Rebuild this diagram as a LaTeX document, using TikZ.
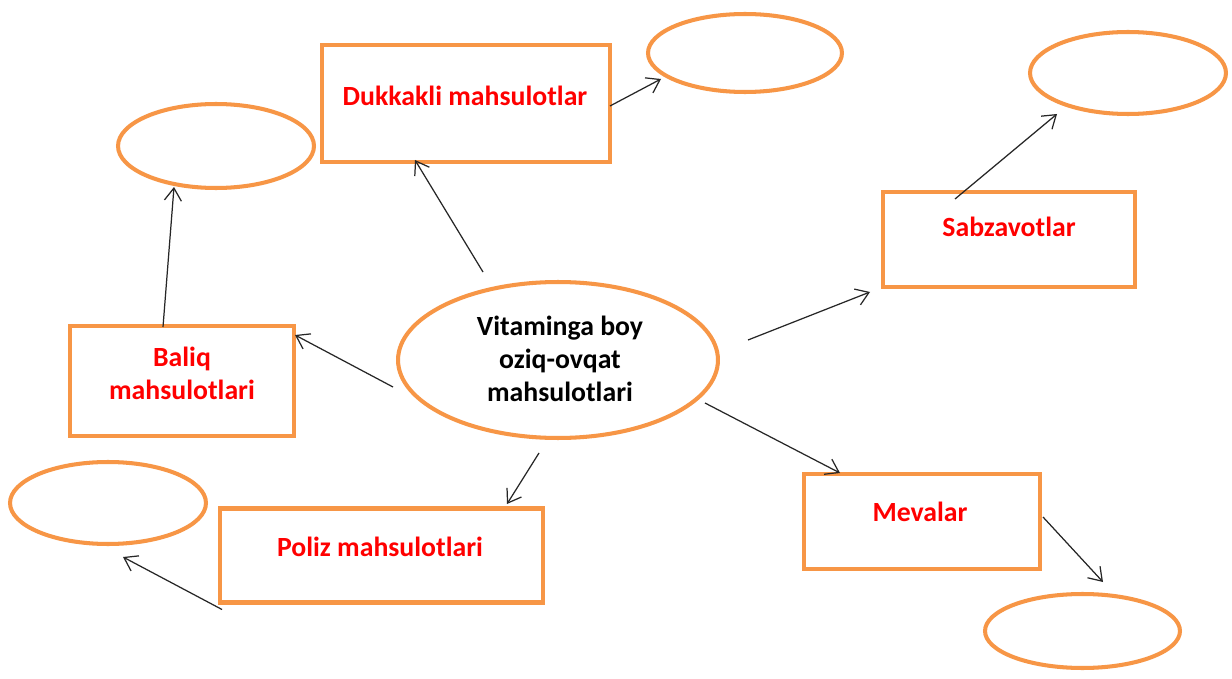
\documentclass[tikz,border=0pt]{standalone}
\usepackage{fontspec}
\setmainfont{Carlito}
\usetikzlibrary{arrows.meta,shapes.geometric}
\definecolor{accorange}{RGB}{247,150,70}
\definecolor{txtred}{RGB}{255,0,0}
\tikzset{
  box/.style={draw=accorange, line width=2.3pt, rectangle, inner sep=0pt, fill=white},
  oval/.style={draw=accorange, line width=2.3pt, ellipse, inner sep=0pt, fill=white},
  lbl/.style={text=txtred, font=\fontsize{15.8}{18.8}\selectfont\bfseries, align=center},
  mainlbl/.style={text=black, font=\fontsize{15.8}{18.8}\selectfont\bfseries, align=center},
  arr/.style={draw=black!85, line width=0.7pt, -{Straight Barb[length=2.5mm,width=3.4mm,line width=0.7pt]}}
}
\begin{document}
\begin{tikzpicture}[x=0.02cm,y=-0.02cm]
\useasboundingbox[fill=white] (0,0) rectangle (1232,679);
% central ellipse
\node[oval, minimum width=6.4cm, minimum height=3.12cm] (c) at (558,360) {};
\node[mainlbl] (ct) at (560,359) {Vitaminga boy\\oziq-ovqat\\mahsulotlari};
% boxes
\node[box, minimum width=5.76cm, minimum height=2.34cm] (duk) at (466,103.5) {};
\node[lbl] (dukt) at (465,96) {Dukkakli mahsulotlar};
\node[box, minimum width=5.04cm, minimum height=1.90cm] (sab) at (1009,239.5) {};
\node[lbl] (sabt) at (1009,227) {Sabzavotlar};
\node[box, minimum width=4.48cm, minimum height=2.20cm] (bal) at (182,381) {};
\node[lbl] (balt) at (182,373) {Baliq\\mahsulotlari};
\node[box, minimum width=6.46cm, minimum height=1.88cm] (pol) at (381.5,555.5) {};
\node[lbl] (polt) at (380,547) {Poliz mahsulotlari};
\node[box, minimum width=4.72cm, minimum height=1.90cm] (mev) at (922,521.5) {};
\node[lbl] (mevt) at (920,512) {Mevalar};
% empty ellipses
\node[oval, minimum width=3.88cm, minimum height=1.56cm] (e1) at (745,53) {};
\node[oval, minimum width=3.92cm, minimum height=1.68cm] (e2) at (216,146) {};
\node[oval, minimum width=3.92cm, minimum height=1.64cm] (e3) at (1128,73) {};
\node[oval, minimum width=3.92cm, minimum height=1.64cm] (e4) at (108,503) {};
\node[oval, minimum width=3.90cm, minimum height=1.48cm] (e5) at (1082.5,631) {};
% connectors
\draw[arr] ([shift={(-75,-88)}]c.center) -- ([shift={(-51,56.5)}]duk.center);
\draw[arr] ([shift={(144,2.5)}]duk.center) -- ([shift={(-84,26)}]e1.center);
\draw[arr] ([shift={(-19,-54)}]bal.center) -- ([shift={(-42,41)}]e2.center);
\draw[arr] ([shift={(-165,27)}]c.center) -- ([shift={(113,-46)}]bal.center);
\draw[arr] ([shift={(190,-20)}]c.center) -- ([shift={(-139,52.5)}]sab.center);
\draw[arr] ([shift={(-54,-40.5)}]sab.center) -- ([shift={(-71,41)}]e3.center);
\draw[arr] ([shift={(147,43)}]c.center) -- ([shift={(-82,-48.5)}]mev.center);
\draw[arr] ([shift={(121,-4.5)}]mev.center) -- ([shift={(20.5,-49)}]e5.center);
\draw[arr] ([shift={(-19,93)}]c.center) -- ([shift={(125.5,-51.5)}]pol.center);
\draw[arr] ([shift={(-159.5,54)}]pol.center) -- ([shift={(15,54)}]e4.center);
\end{tikzpicture}
\end{document}
